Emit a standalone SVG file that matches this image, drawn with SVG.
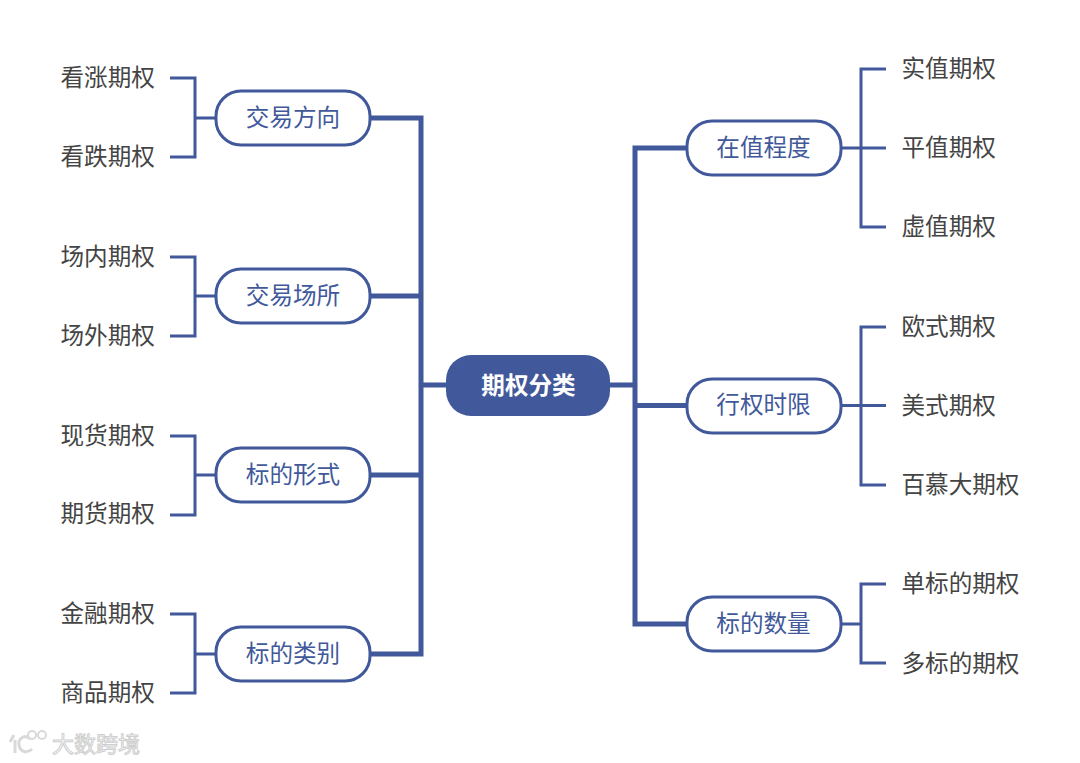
<svg xmlns="http://www.w3.org/2000/svg" width="1080" height="763" viewBox="0 0 1080 763">
<style>
text{font-family:"Noto Sans CJK SC","Noto Sans",sans-serif;font-size:23.6px;dominant-baseline:central}
.leaf{fill:#444}
.lab{fill:#41599b;text-anchor:middle}
.box{fill:#fff;stroke:#41599b;stroke-width:3}
.thin,.thick{fill:none;stroke:#41599b;stroke-linejoin:miter}
.thin{stroke-width:3}
.thick{stroke-width:5}
.wm{fill:#fff;stroke:#cfcfcf;stroke-width:1}
</style>
<rect width="1080" height="763" fill="#fff"/>
<g id="connectors">
<path class="thick" d="M371 118H421V654H371M371 296H421M371 475H421M421 385H446"/>
<path class="thick" d="M686 148H635V624H686M635 405.500H686M610 385H635"/>
<path class="thin" d="M170 78H195V157H170M195 118H215"/>
<path class="thin" d="M170 257H195V336H170M195 296H215"/>
<path class="thin" d="M170 436H195V515H170M195 475H215"/>
<path class="thin" d="M170 614H195V693H170M195 654H215"/>
<path class="thin" d="M886 69H861V227H886M886 148H842"/>
<path class="thin" d="M886 327H861V485H886M886 405.500H842"/>
<path class="thin" d="M886 584H861V663H886M861 624H842"/>
</g>
<g id="root"><rect x="446" y="355" width="164" height="61" rx="25" fill="#41599b"/><text x="528.500" y="384" text-anchor="middle" fill="#fff" font-weight="700">期权分类</text></g>
<g id="n-jyfx"><rect class="box" x="216" y="91" width="154" height="54" rx="25"/><text class="lab" x="293" y="115.500">交易方向</text></g>
<g id="n-jycs"><rect class="box" x="216" y="269" width="154" height="54" rx="25"/><text class="lab" x="293" y="293.500">交易场所</text></g>
<g id="n-bdxs"><rect class="box" x="216" y="448" width="154" height="54" rx="25"/><text class="lab" x="293" y="472.500">标的形式</text></g>
<g id="n-bdlb"><rect class="box" x="216" y="627" width="154" height="54" rx="25"/><text class="lab" x="293" y="651.500">标的类别</text></g>
<g id="n-zzcd"><rect class="box" x="687" y="121" width="154" height="54" rx="25"/><text class="lab" x="763.500" y="145.500">在值程度</text></g>
<g id="n-xqsx"><rect class="box" x="687" y="379" width="154" height="54" rx="25"/><text class="lab" x="763.500" y="403">行权时限</text></g>
<g id="n-bdsl"><rect class="box" x="687" y="597" width="154" height="54" rx="25"/><text class="lab" x="763.500" y="621.500">标的数量</text></g>
<g id="l1"><text class="leaf" x="60.500" y="75.500">看涨期权</text></g>
<g id="l2"><text class="leaf" x="60.500" y="154.500">看跌期权</text></g>
<g id="l3"><text class="leaf" x="60.500" y="254.500">场内期权</text></g>
<g id="l4"><text class="leaf" x="60.500" y="333.500">场外期权</text></g>
<g id="l5"><text class="leaf" x="60.500" y="433.500">现货期权</text></g>
<g id="l6"><text class="leaf" x="60.500" y="511.500">期货期权</text></g>
<g id="l7"><text class="leaf" x="60.500" y="611.500">金融期权</text></g>
<g id="l8"><text class="leaf" x="60.500" y="690.500">商品期权</text></g>
<g id="r1"><text class="leaf" x="901.500" y="67">实值期权</text></g>
<g id="r2"><text class="leaf" x="901.500" y="146">平值期权</text></g>
<g id="r3"><text class="leaf" x="901.500" y="225">虚值期权</text></g>
<g id="r4"><text class="leaf" x="901.500" y="325">欧式期权</text></g>
<g id="r5"><text class="leaf" x="901.500" y="404">美式期权</text></g>
<g id="r6"><text class="leaf" x="901.500" y="483">百慕大期权</text></g>
<g id="r7"><text class="leaf" x="901.500" y="582">单标的期权</text></g>
<g id="r8"><text class="leaf" x="901.500" y="662">多标的期权</text></g>
<g id="watermark">
<path d="M14 735L10 742M15 740V753M31 739C23 733 18 740 19 745C20 752 27 754 32 749" fill="none" stroke="#d9d9d9" stroke-width="3"/>
<circle cx="32" cy="735" r="4" fill="#fff" stroke="#d9d9d9" stroke-width="2"/>
<circle cx="42" cy="735" r="4" fill="#fff" stroke="#d9d9d9" stroke-width="2"/>
<text class="wm" x="52" y="742" style="font-size:22px">大数跨境</text>
</g>
</svg>
